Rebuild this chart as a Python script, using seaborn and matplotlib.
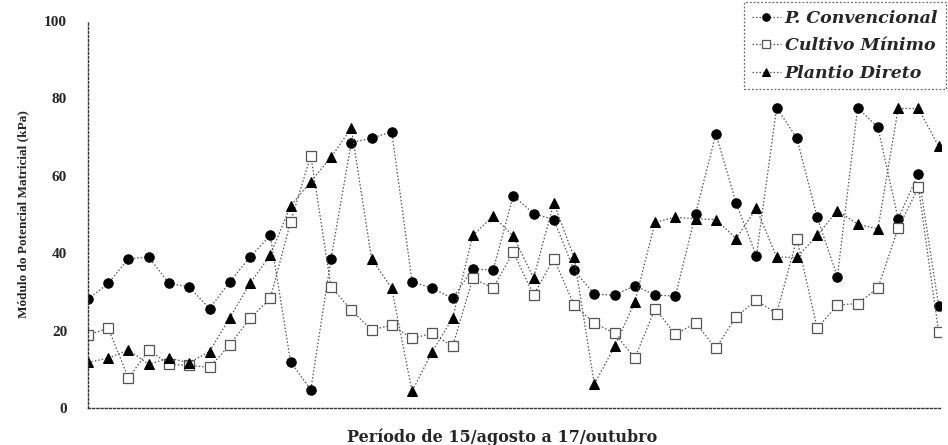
import numpy as np
import pandas as pd
import seaborn as sns
import matplotlib
matplotlib.use("Agg")
import matplotlib.pyplot as plt

# Soil matric potential readings, one per observation day (15 Aug - 17 Oct)
dias = list(range(43))

p_convencional = [28.1, 32.2, 38.6, 39.0, 32.2, 31.3, 25.7, 32.6, 39.0, 44.6,
                  12.0, 4.7, 38.6, 68.6, 69.7, 71.4, 32.6, 31.0, 28.3, 36.0,
                  35.6, 54.9, 50.2, 48.7, 35.6, 29.4, 29.2, 31.6, 29.2, 28.9,
                  50.2, 70.8, 53.0, 39.3, 77.6, 69.7, 49.3, 33.9, 77.6, 72.5,
                  48.9, 60.5, 26.4]

cultivo_minimo = [18.9, 20.6, 7.7, 15.0, 11.3, 11.0, 10.5, 16.3, 23.2, 28.3,
                  48.0, 65.2, 31.3, 25.3, 20.2, 21.4, 18.0, 19.3, 15.9, 33.5,
                  31.0, 40.3, 29.2, 38.6, 26.6, 21.9, 19.3, 12.9, 25.7, 19.0,
                  22.0, 15.4, 23.6, 27.8, 24.4, 43.8, 20.6, 26.6, 27.0, 31.0,
                  46.5, 57.0, 19.6]

plantio_direto = [11.8, 12.9, 15.0, 11.3, 12.9, 11.7, 14.6, 23.3, 32.2, 39.5,
                  52.2, 58.5, 64.8, 72.3, 38.6, 30.9, 4.3, 14.6, 23.2, 44.6,
                  49.6, 44.4, 33.6, 53.0, 38.9, 6.2, 15.9, 27.4, 48.0, 49.3,
                  48.9, 48.7, 43.8, 51.6, 39.0, 38.9, 44.6, 51.0, 47.5, 46.3,
                  77.4, 77.4, 67.6]

series_nomes = ["P. Convencional", "Cultivo Mínimo", "Plantio Direto"]
y_ticks = [0, 20, 40, 60, 80, 100]

df = pd.DataFrame({
    "dia": dias * 3,
    "valor": p_convencional + cultivo_minimo + plantio_direto,
    "tratamento": np.repeat(series_nomes, len(dias)),
})

sns.set_theme(style="white")
plt.rcParams["font.family"] = ["Liberation Serif", "DejaVu Serif"]

fig = plt.figure(figsize=(9.48, 4.45), dpi=100)
ax = fig.add_axes([0.0928, 0.0831, 0.8995, 0.8697])

estilos = {
    "P. Convencional": dict(marker="o", markersize=6.8, markerfacecolor="black",
                            markeredgecolor="black"),
    "Cultivo Mínimo": dict(marker="s", markersize=6.5, markerfacecolor="white",
                           markeredgecolor="#555555", markeredgewidth=0.9),
    "Plantio Direto": dict(marker="^", markersize=7, markerfacecolor="black",
                           markeredgecolor="black"),
}

for nome in series_nomes:
    sub = df[df["tratamento"] == nome]
    sns.lineplot(data=sub, x="dia", y="valor", ax=ax, sort=False,
                 color="#555555", linewidth=0.9, linestyle=(0, (1.2, 1.6)),
                 label=nome, **estilos[nome])

ax.set_xlim(0, 42.1)
ax.set_ylim(0, 100)
ax.set_yticks(y_ticks)
ax.set_yticklabels([str(t) for t in y_ticks], fontsize=11, fontweight="bold")
ax.set_xticks(dias)
ax.set_xticklabels([])
ax.tick_params(axis="x", direction="out", length=2, width=0.6, color="#555555")
ax.tick_params(axis="y", direction="inout", length=4, width=0.6, color="#555555", pad=13)

for lado in ["top", "right"]:
    ax.spines[lado].set_visible(False)
for lado in ["left", "bottom"]:
    ax.spines[lado].set_linestyle((0, (1.5, 1.5)))
    ax.spines[lado].set_linewidth(1.0)
    ax.spines[lado].set_color("#333333")

ax.set_xlabel("")
ax.set_ylabel("Módulo do Potencial Matricial (kPa)", fontsize=9.5, fontweight="bold",
              labelpad=11)
fig.text(502 / 948, 1 - 437 / 445, "Período de 15/agosto a 17/outubro",
         ha="center", va="center", fontsize=11.5, fontweight="bold",
         family=["DejaVu Serif"])

leg = ax.legend(loc="upper right", bbox_to_anchor=(946 / 948, 1 - 2 / 445),
                bbox_transform=fig.transFigure, borderaxespad=0, frameon=True,
                fancybox=False, handlelength=1.7, handletextpad=0.2,
                labelspacing=0.6, borderpad=0.45, markerscale=0.8,
                prop={"family": ["DejaVu Serif"], "weight": "bold",
                      "style": "italic", "size": 12.5})
frame = leg.get_frame()
frame.set_edgecolor("#444444")
frame.set_linestyle((0, (1.5, 1.5)))
frame.set_linewidth(0.9)

fig.savefig("out.png", dpi=100)
